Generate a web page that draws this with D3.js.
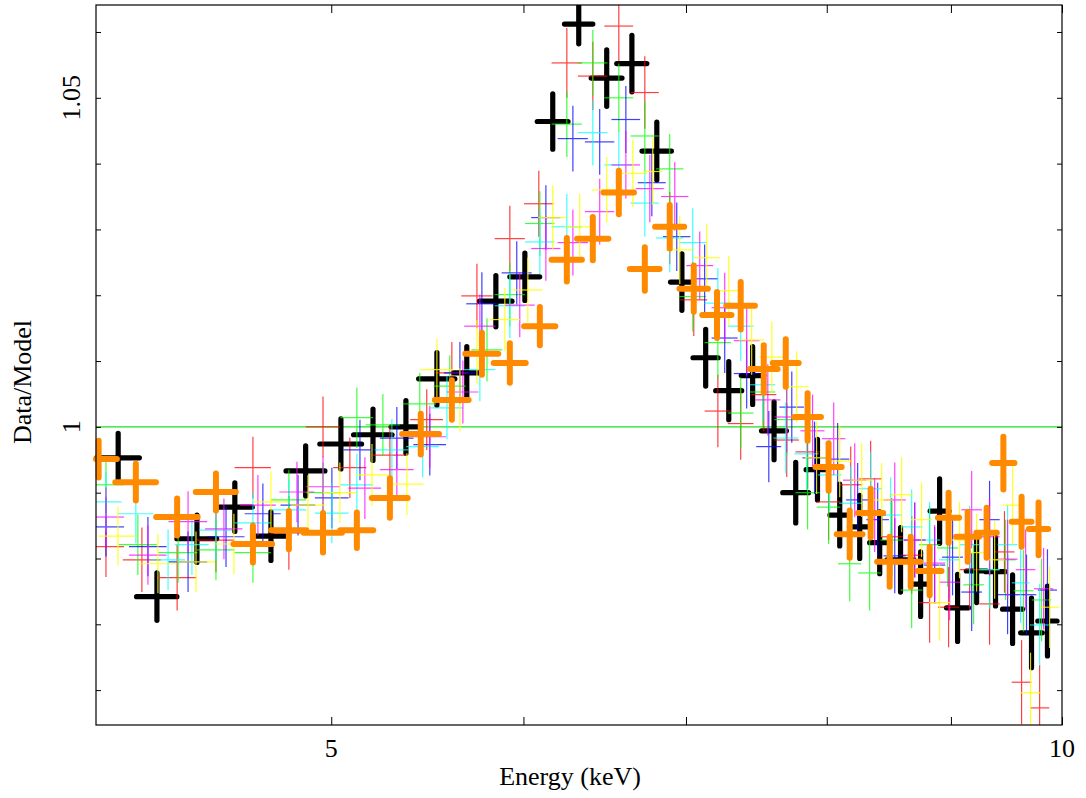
<!DOCTYPE html>
<html>
<head>
<meta charset="utf-8">
<script src="https://cdn.jsdelivr.net/npm/d3@7"></script>
<style>
  body { margin: 0; background: #fff; }
  text { font-family: "Liberation Serif", "Times New Roman", serif; fill: #000; }
</style>
</head>
<body>
<div id="chart"></div>
<script>
// rows: [energy (keV), half bin width (keV), data/model, 1-sigma error]
const black = [
  [4.085, 0.083, 0.9953, 0.0037], [4.238, 0.081, 0.9742, 0.0036], [4.402, 0.083, 0.9830, 0.0036],
  [4.563, 0.076, 0.9878, 0.0037], [4.722, 0.065, 0.9834, 0.0037], [4.880, 0.090, 0.9933, 0.0038],
  [5.046, 0.100, 0.9974, 0.0038], [5.202, 0.095, 0.9988, 0.0039], [5.367, 0.075, 1.0000, 0.0040],
  [5.527, 0.095, 1.0073, 0.0040], [5.686, 0.070, 1.0082, 0.0040], [5.845, 0.090, 1.0191, 0.0039],
  [6.008, 0.085, 1.0228, 0.0036], [6.169, 0.090, 1.0464, 0.0042], [6.323, 0.085, 1.0612, 0.0030],
  [6.493, 0.095, 1.0530, 0.0043], [6.650, 0.095, 1.0552, 0.0043], [6.809, 0.095, 1.0419, 0.0044],
  [6.973, 0.075, 1.0220, 0.0043], [7.132, 0.085, 1.0105, 0.0043], [7.290, 0.090, 1.0055, 0.0044],
  [7.457, 0.080, 1.0078, 0.0044], [7.610, 0.090, 0.9994, 0.0044], [7.768, 0.095, 0.9900, 0.0046],
  [7.930, 0.085, 0.9935, 0.0046], [8.099, 0.075, 0.9866, 0.0047], [8.254, 0.080, 0.9848, 0.0048],
  [8.412, 0.080, 0.9824, 0.0047], [8.580, 0.110, 0.9798, 0.0049], [8.745, 0.070, 0.9761, 0.0049],
  [8.904, 0.080, 0.9872, 0.0049], [9.057, 0.095, 0.9725, 0.0051], [9.222, 0.090, 0.9781, 0.0048],
  [9.389, 0.085, 0.9780, 0.0052], [9.542, 0.090, 0.9723, 0.0052], [9.715, 0.100, 0.9687, 0.0053],
  [9.863, 0.090, 0.9705, 0.0053]
];
const red = [
  [4.038, 0.070, 0.9818, 0.0046], [4.178, 0.075, 0.9798, 0.0049], [4.320, 0.080, 0.9771, 0.0050],
  [4.482, 0.080, 0.9828, 0.0049], [4.642, 0.080, 0.9938, 0.0047], [4.803, 0.080, 0.9839, 0.0056],
  [4.961, 0.080, 1.0000, 0.0046], [5.089, 0.080, 0.9938, 0.0046], [5.286, 0.085, 0.9957, 0.0046],
  [5.474, 0.085, 1.0011, 0.0046], [5.606, 0.085, 1.0082, 0.0047], [5.741, 0.085, 1.0199, 0.0049],
  [5.923, 0.085, 1.0286, 0.0050], [6.088, 0.085, 1.0339, 0.0050], [6.252, 0.090, 1.0553, 0.0053],
  [6.408, 0.090, 1.0533, 0.0052], [6.568, 0.090, 1.0609, 0.0053], [6.732, 0.090, 1.0508, 0.0055],
  [6.893, 0.090, 1.0302, 0.0055], [7.052, 0.090, 1.0193, 0.0055], [7.215, 0.090, 1.0024, 0.0055],
  [7.373, 0.090, 1.0005, 0.0055], [7.536, 0.090, 1.0049, 0.0056], [7.702, 0.090, 0.9980, 0.0056],
  [7.856, 0.090, 0.9962, 0.0056], [8.014, 0.090, 0.9886, 0.0058], [8.184, 0.090, 0.9912, 0.0058],
  [8.340, 0.090, 0.9921, 0.0058], [8.508, 0.090, 0.9833, 0.0059], [8.671, 0.090, 0.9805, 0.0059],
  [8.820, 0.090, 0.9733, 0.0061], [8.980, 0.090, 0.9726, 0.0061], [9.161, 0.090, 0.9783, 0.0061],
  [9.336, 0.090, 0.9731, 0.0062], [9.469, 0.090, 0.9810, 0.0062], [9.624, 0.090, 0.9612, 0.0064],
  [9.790, 0.090, 0.9573, 0.0065]
];
const green = [
  [4.038, 0.070, 0.9912, 0.0043], [4.162, 0.075, 0.9821, 0.0046], [4.324, 0.080, 0.9809, 0.0046],
  [4.482, 0.080, 0.9813, 0.0046], [4.642, 0.080, 0.9809, 0.0046], [4.803, 0.080, 0.9889, 0.0046],
  [4.961, 0.080, 0.9900, 0.0046], [5.123, 0.080, 1.0014, 0.0046], [5.251, 0.085, 1.0003, 0.0047],
  [5.438, 0.085, 1.0035, 0.0047], [5.595, 0.085, 1.0062, 0.0047], [5.796, 0.085, 1.0117, 0.0048],
  [5.923, 0.085, 1.0201, 0.0048], [6.094, 0.085, 1.0309, 0.0049], [6.252, 0.090, 1.0460, 0.0050],
  [6.408, 0.090, 1.0553, 0.0050], [6.568, 0.090, 1.0500, 0.0052], [6.732, 0.090, 1.0442, 0.0053],
  [6.893, 0.090, 1.0392, 0.0053], [7.045, 0.090, 1.0198, 0.0053], [7.215, 0.090, 1.0128, 0.0054],
  [7.373, 0.090, 1.0021, 0.0054], [7.529, 0.090, 1.0053, 0.0055], [7.702, 0.090, 1.0011, 0.0055],
  [7.856, 0.090, 0.9900, 0.0056], [8.014, 0.090, 0.9878, 0.0056], [8.176, 0.090, 0.9792, 0.0057],
  [8.332, 0.090, 0.9778, 0.0057], [8.508, 0.090, 0.9828, 0.0058], [8.671, 0.090, 0.9752, 0.0058],
  [8.820, 0.090, 0.9821, 0.0059], [8.972, 0.090, 0.9816, 0.0059], [9.196, 0.090, 0.9760, 0.0060],
  [9.336, 0.090, 0.9783, 0.0060], [9.479, 0.090, 0.9798, 0.0061], [9.642, 0.090, 0.9751, 0.0062],
  [9.808, 0.090, 0.9737, 0.0063]
];
const blue = [
  [4.038, 0.070, 0.9848, 0.0045], [4.202, 0.075, 0.9818, 0.0045], [4.365, 0.080, 0.9795, 0.0046],
  [4.525, 0.080, 0.9833, 0.0046], [4.686, 0.080, 0.9868, 0.0046], [4.845, 0.080, 0.9881, 0.0046],
  [5.003, 0.080, 0.9892, 0.0046], [5.138, 0.080, 0.9965, 0.0046], [5.321, 0.085, 0.9983, 0.0047],
  [5.490, 0.085, 0.9973, 0.0047], [5.649, 0.085, 1.0082, 0.0047], [5.768, 0.085, 1.0187, 0.0048],
  [5.962, 0.085, 1.0234, 0.0048], [6.129, 0.085, 1.0318, 0.0049], [6.288, 0.090, 1.0438, 0.0050],
  [6.450, 0.090, 1.0433, 0.0050], [6.612, 0.090, 1.0467, 0.0051], [6.777, 0.090, 1.0371, 0.0051],
  [6.939, 0.090, 1.0289, 0.0052], [7.125, 0.090, 1.0225, 0.0052], [7.262, 0.090, 1.0135, 0.0053],
  [7.415, 0.090, 1.0081, 0.0053], [7.572, 0.090, 0.9970, 0.0054], [7.739, 0.090, 1.0030, 0.0054],
  [7.908, 0.090, 0.9953, 0.0055], [8.083, 0.090, 0.9951, 0.0055], [8.238, 0.090, 0.9889, 0.0056],
  [8.396, 0.090, 0.9859, 0.0056], [8.533, 0.090, 0.9804, 0.0057], [8.696, 0.090, 0.9828, 0.0057],
  [8.862, 0.090, 0.9790, 0.0058], [9.014, 0.090, 0.9802, 0.0058], [9.179, 0.090, 0.9749, 0.0059],
  [9.336, 0.090, 0.9859, 0.0059], [9.497, 0.090, 0.9745, 0.0060], [9.669, 0.090, 0.9745, 0.0061],
  [9.863, 0.090, 0.9752, 0.0062]
];
const cyan = [
  [4.038, 0.060, 0.9886, 0.0045], [4.154, 0.070, 0.9868, 0.0045], [4.283, 0.070, 0.9798, 0.0046],
  [4.381, 0.070, 0.9821, 0.0046], [4.482, 0.070, 0.9843, 0.0046], [4.642, 0.080, 0.9854, 0.0046],
  [4.803, 0.080, 0.9874, 0.0046], [5.003, 0.080, 0.9869, 0.0046], [5.123, 0.080, 0.9912, 0.0047],
  [5.296, 0.085, 0.9965, 0.0047], [5.453, 0.085, 0.9970, 0.0047], [5.580, 0.085, 1.0029, 0.0048],
  [5.757, 0.085, 1.0087, 0.0048], [5.923, 0.085, 1.0184, 0.0049], [6.094, 0.085, 1.0281, 0.0049],
  [6.252, 0.090, 1.0304, 0.0050], [6.408, 0.090, 1.0447, 0.0050], [6.568, 0.090, 1.0398, 0.0051],
  [6.732, 0.090, 1.0340, 0.0051], [6.893, 0.090, 1.0287, 0.0052], [7.045, 0.090, 1.0280, 0.0052],
  [7.215, 0.090, 1.0188, 0.0053], [7.373, 0.090, 1.0153, 0.0053], [7.529, 0.090, 1.0064, 0.0054],
  [7.695, 0.090, 0.9983, 0.0054], [7.848, 0.090, 0.9959, 0.0055], [8.022, 0.090, 0.9927, 0.0055],
  [8.184, 0.090, 0.9884, 0.0056], [8.340, 0.090, 0.9906, 0.0056], [8.500, 0.090, 0.9866, 0.0057],
  [8.671, 0.090, 0.9848, 0.0057], [8.820, 0.090, 0.9828, 0.0058], [8.989, 0.090, 0.9798, 0.0058],
  [9.161, 0.090, 0.9821, 0.0059], [9.336, 0.090, 0.9783, 0.0059], [9.497, 0.090, 0.9821, 0.0060],
  [9.615, 0.080, 0.9763, 0.0061], [9.790, 0.090, 0.9699, 0.0062]
];
const magenta = [
  [4.038, 0.070, 0.9863, 0.0045], [4.202, 0.075, 0.9805, 0.0045], [4.365, 0.080, 0.9856, 0.0046],
  [4.516, 0.080, 0.9845, 0.0046], [4.664, 0.080, 0.9881, 0.0046], [4.840, 0.080, 0.9901, 0.0046],
  [4.961, 0.080, 0.9909, 0.0046], [5.162, 0.080, 0.9907, 0.0047], [5.321, 0.085, 0.9935, 0.0047],
  [5.490, 0.085, 0.9985, 0.0047], [5.665, 0.085, 1.0053, 0.0048], [5.757, 0.085, 1.0153, 0.0048],
  [5.979, 0.085, 1.0185, 0.0049], [6.129, 0.085, 1.0271, 0.0049], [6.288, 0.090, 1.0280, 0.0050],
  [6.450, 0.090, 1.0327, 0.0050], [6.612, 0.090, 1.0398, 0.0051], [6.764, 0.090, 1.0362, 0.0051],
  [6.926, 0.090, 1.0350, 0.0052], [7.092, 0.090, 1.0245, 0.0052], [7.262, 0.090, 1.0181, 0.0053],
  [7.415, 0.090, 1.0131, 0.0053], [7.565, 0.090, 1.0041, 0.0054], [7.702, 0.090, 1.0015, 0.0054],
  [7.893, 0.090, 0.9994, 0.0055], [8.053, 0.090, 0.9982, 0.0055], [8.215, 0.090, 0.9919, 0.0056],
  [8.372, 0.090, 0.9866, 0.0056], [8.533, 0.090, 0.9889, 0.0057], [8.696, 0.090, 0.9828, 0.0057],
  [8.862, 0.090, 0.9793, 0.0058], [8.989, 0.090, 0.9764, 0.0058], [9.179, 0.090, 0.9874, 0.0059],
  [9.336, 0.090, 0.9833, 0.0059], [9.497, 0.090, 0.9799, 0.0060], [9.661, 0.090, 0.9783, 0.0061],
  [9.827, 0.090, 0.9754, 0.0062]
];
const yellow = [
  [4.084, 0.075, 0.9834, 0.0045], [4.242, 0.075, 0.9792, 0.0045], [4.398, 0.080, 0.9795, 0.0046],
  [4.559, 0.080, 0.9822, 0.0046], [4.722, 0.080, 0.9886, 0.0046], [4.891, 0.080, 0.9881, 0.0046],
  [5.041, 0.080, 0.9900, 0.0046], [5.197, 0.080, 0.9927, 0.0047], [5.372, 0.085, 0.9913, 0.0047],
  [5.527, 0.085, 1.0087, 0.0047], [5.649, 0.060, 1.0041, 0.0048], [5.741, 0.060, 1.0114, 0.0048],
  [5.895, 0.085, 1.0163, 0.0048], [6.025, 0.085, 1.0208, 0.0049], [6.169, 0.085, 1.0318, 0.0049],
  [6.329, 0.090, 1.0304, 0.0050], [6.493, 0.090, 1.0360, 0.0050], [6.656, 0.090, 1.0385, 0.0051],
  [6.783, 0.060, 1.0388, 0.0051], [6.959, 0.090, 1.0269, 0.0052], [7.139, 0.090, 1.0257, 0.0052],
  [7.290, 0.090, 1.0207, 0.0053], [7.450, 0.090, 1.0132, 0.0053], [7.594, 0.090, 1.0106, 0.0054],
  [7.775, 0.090, 1.0061, 0.0054], [7.923, 0.090, 0.9953, 0.0055], [8.099, 0.090, 0.9948, 0.0055],
  [8.270, 0.090, 0.9919, 0.0056], [8.428, 0.090, 0.9889, 0.0056], [8.589, 0.090, 0.9897, 0.0057],
  [8.753, 0.090, 0.9859, 0.0057], [8.904, 0.090, 0.9733, 0.0058], [9.074, 0.090, 0.9828, 0.0058],
  [9.222, 0.090, 0.9809, 0.0059], [9.381, 0.090, 0.9798, 0.0059], [9.542, 0.090, 0.9881, 0.0060],
  [9.706, 0.090, 0.9596, 0.0061], [9.883, 0.090, 0.9726, 0.0062]
];
const orange = [
  [4.010, 0.070, 0.9951, 0.0028], [4.154, 0.080, 0.9916, 0.0028], [4.320, 0.085, 0.9863, 0.0028],
  [4.482, 0.085, 0.9901, 0.0028], [4.642, 0.085, 0.9822, 0.0028], [4.803, 0.080, 0.9843, 0.0029],
  [4.961, 0.090, 0.9839, 0.0030], [5.123, 0.080, 0.9843, 0.0027], [5.286, 0.090, 0.9892, 0.0030],
  [5.443, 0.095, 0.9989, 0.0031], [5.606, 0.090, 1.0041, 0.0030], [5.768, 0.090, 1.0111, 0.0032],
  [5.923, 0.090, 1.0097, 0.0030], [6.094, 0.090, 1.0153, 0.0029], [6.252, 0.090, 1.0254, 0.0033],
  [6.408, 0.095, 1.0286, 0.0033], [6.568, 0.095, 1.0356, 0.0033], [6.732, 0.095, 1.0240, 0.0033],
  [6.893, 0.095, 1.0304, 0.0033], [7.052, 0.095, 1.0210, 0.0035], [7.209, 0.100, 1.0170, 0.0035],
  [7.373, 0.100, 1.0184, 0.0036], [7.536, 0.100, 1.0088, 0.0036], [7.695, 0.095, 1.0097, 0.0036],
  [7.856, 0.100, 1.0015, 0.0036], [8.014, 0.100, 0.9939, 0.0036], [8.176, 0.100, 0.9837, 0.0036],
  [8.340, 0.100, 0.9869, 0.0037], [8.492, 0.100, 0.9795, 0.0038], [8.663, 0.080, 0.9795, 0.0038],
  [8.820, 0.100, 0.9781, 0.0037], [8.980, 0.090, 0.9862, 0.0038], [9.144, 0.100, 0.9833, 0.0038],
  [9.310, 0.090, 0.9839, 0.0038], [9.459, 0.100, 0.9945, 0.0040], [9.624, 0.090, 0.9856, 0.0038],
  [9.780, 0.090, 0.9845, 0.0040]
];

const xTicks = [5, 6, 7, 8, 9, 10];
const xLabels = [5, 10];
const yTicks = [0.96, 0.97, 0.98, 0.99, 1.0, 1.01, 1.02, 1.03, 1.04, 1.05, 1.06];
const yLabels = [1, 1.05];
const modelLevel = 1;

const W = 1086, H = 798;
const plotLeft = 96, plotRight = 1062, plotTop = 5, plotBottom = 725;

const x = d3.scaleLog().domain([4, 10]).range([plotLeft, plotRight]);
const y = d3.scaleLinear().domain([0.9547, 1.0641]).range([plotBottom, plotTop]);

const svg = d3.select("#chart").append("svg")
    .attr("width", W)
    .attr("height", H);

svg.append("defs").append("clipPath").attr("id", "plotclip")
    .append("rect").attr("x", 0).attr("y", plotTop).attr("width", W).attr("height", plotBottom - plotTop);

const plot = svg.append("g").attr("clip-path", "url(#plotclip)");

// model line
plot.append("line")
    .attr("x1", x(4)).attr("x2", x(10))
    .attr("y1", y(modelLevel)).attr("y2", y(modelLevel))
    .attr("stroke", "#1fe01f").attr("stroke-width", 1.3);

function drawCrosses(rows, color, sw, opacity) {
    const g = plot.append("g")
        .attr("stroke", color)
        .attr("stroke-width", sw)
        .attr("stroke-linecap", sw > 2 ? "round" : "butt")
        .attr("opacity", opacity);
    g.selectAll("line.h").data(rows).join("line").attr("class", "h")
        .attr("x1", d => x(Math.max(d[0] - d[1], 4)))
        .attr("x2", d => x(d[0] + d[1]))
        .attr("y1", d => y(d[2])).attr("y2", d => y(d[2]));
    g.selectAll("line.v").data(rows).join("line").attr("class", "v")
        .attr("x1", d => x(d[0])).attr("x2", d => x(d[0]))
        .attr("y1", d => y(d[2] - d[3])).attr("y2", d => y(d[2] + d[3]));
}

drawCrosses(black, "#000", 5.2, 1);
drawCrosses(red, "#ff0000", 1.2, 0.75);
drawCrosses(green, "#00ff00", 1.2, 0.75);
drawCrosses(blue, "#0000ff", 1.2, 0.75);
drawCrosses(cyan, "#00ffff", 1.2, 0.75);
drawCrosses(magenta, "#ff00ff", 1.2, 0.75);
drawCrosses(yellow, "#ffff00", 1.2, 0.85);
drawCrosses(orange, "#ff8a00", 6, 1);

// axes: ticks pointing inward
const axisStyle = g => {
    g.select(".domain").remove();
    g.selectAll(".tick line").attr("stroke", "#000").attr("stroke-width", 1);
    g.selectAll(".tick text").remove();
};
svg.append("g").attr("transform", `translate(0,${plotBottom})`)
    .call(d3.axisBottom(x).tickValues(xTicks).tickSize(-8).tickSizeOuter(0)).call(axisStyle);
svg.append("g").attr("transform", `translate(0,${plotTop})`)
    .call(d3.axisTop(x).tickValues(xTicks).tickSize(-8).tickSizeOuter(0)).call(axisStyle);
svg.append("g").attr("transform", `translate(${plotLeft},0)`)
    .call(d3.axisLeft(y).tickValues(yTicks).tickSize(-5).tickSizeOuter(0)).call(axisStyle);
svg.append("g").attr("transform", `translate(${plotRight},0)`)
    .call(d3.axisRight(y).tickValues(yTicks).tickSize(-5).tickSizeOuter(0)).call(axisStyle);

svg.append("rect")
    .attr("x", plotLeft).attr("y", plotTop)
    .attr("width", plotRight - plotLeft).attr("height", plotBottom - plotTop)
    .attr("fill", "none").attr("stroke", "#000").attr("stroke-width", 1.2);

// tick labels
svg.selectAll("text.xl").data(xLabels).join("text").attr("class", "xl")
    .attr("x", d => x(d)).attr("y", 757)
    .attr("text-anchor", "middle").attr("font-size", 26)
    .text(d => d);
svg.selectAll("text.yl").data(yLabels).join("text").attr("class", "yl")
    .attr("transform", d => `translate(80,${y(d)}) rotate(-90)`)
    .attr("text-anchor", "middle").attr("font-size", 26)
    .text(d => d === 1 ? "1" : d3.format(".2f")(d));

svg.append("text")
    .attr("x", 570).attr("y", 785)
    .attr("text-anchor", "middle").attr("font-size", 26)
    .text("Energy (keV)");
svg.append("text")
    .attr("transform", `translate(31,382) rotate(-90)`)
    .attr("text-anchor", "middle").attr("font-size", 26)
    .text("Data/Model");
</script>
</body>
</html>
